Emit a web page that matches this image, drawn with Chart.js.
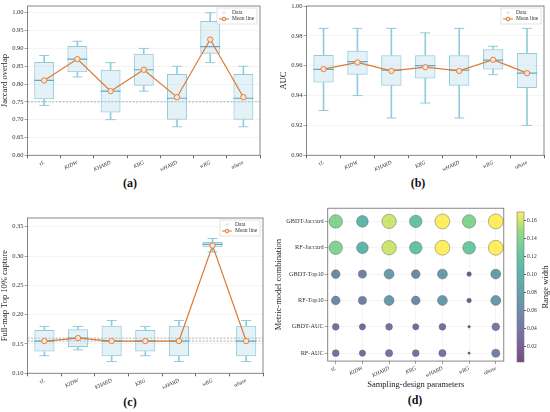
<!DOCTYPE html>
<html>
<head>
<meta charset="utf-8">
<script src="https://cdn.jsdelivr.net/npm/chart.js@4.4.0/dist/chart.umd.min.js"></script>
<style>
  body { margin: 0; background: #fff; width: 550px; height: 412px; position: relative; overflow: hidden; font-family: "Liberation Serif", serif; }
  .panel { position: absolute; }
  .tag { position: absolute; font-weight: bold; font-size: 12px; color: #111; transform: translate(-50%, -50%); }
</style>
</head>
<body>
<div class="panel" style="left:0;top:0;width:266px;height:174px"><canvas id="ca"></canvas></div>
<div class="panel" style="left:276px;top:0;width:274px;height:174px"><canvas id="cb"></canvas></div>
<div class="panel" style="left:0;top:212px;width:269px;height:180px"><canvas id="cc"></canvas></div>
<div class="panel" style="left:274px;top:200px;width:238px;height:190px"><canvas id="cd"></canvas></div>
<div class="panel" style="left:505px;top:200px;width:45px;height:192px"><canvas id="ce"></canvas></div>
<div class="tag" style="left:130px;top:183px">(a)</div>
<div class="tag" style="left:418px;top:183px">(b)</div>
<div class="tag" style="left:130px;top:402px">(c)</div>
<div class="tag" style="left:415px;top:400px">(d)</div>
<script>
var SERIF = "'Liberation Serif', serif";
var ORANGE = "#dd7a36";
var EDGE = "#92cbdc";
var MED = "#62a9c1";
var FILL = "rgba(173,216,230,0.33)";

var params = ["τL", "KIDW", "KHARD", "KRG", "wHARD", "wRG", "αbase"];

// (a) Jaccard overlap
var jacMin  = [0.74, 0.82, 0.70, 0.78, 0.68, 0.86, 0.68];
var jacQ1   = [0.757, 0.833, 0.72, 0.795, 0.70, 0.885, 0.70];
var jacMed  = [0.81, 0.87, 0.78, 0.84, 0.76, 0.905, 0.76];
var jacQ3   = [0.862, 0.907, 0.84, 0.885, 0.828, 0.977, 0.828];
var jacMax  = [0.88, 0.92, 0.86, 0.90, 0.85, 1.00, 0.85];
var jacMean = [0.81, 0.87, 0.78, 0.84, 0.763, 0.925, 0.763];
var jacTicks = [0.60, 0.65, 0.70, 0.75, 0.80, 0.85, 0.90, 0.95, 1.00];
var jacRef = [0.75];

// (b) AUC
var aucMin  = [0.930, 0.940, 0.925, 0.935, 0.925, 0.954, 0.920];
var aucQ1   = [0.9487, 0.954, 0.9465, 0.9515, 0.9465, 0.9575, 0.945];
var aucMed  = [0.9575, 0.9628, 0.957, 0.960, 0.957, 0.9637, 0.955];
var aucQ3   = [0.9672, 0.970, 0.967, 0.967, 0.967, 0.971, 0.9685];
var aucMax  = [0.985, 0.985, 0.985, 0.982, 0.985, 0.973, 0.985];
var aucMean = [0.9577, 0.9622, 0.9565, 0.959, 0.9565, 0.964, 0.955];
var aucTicks = [0.90, 0.92, 0.94, 0.96, 0.98, 1.00];
var aucRef = [];

// (c) Full-map Top 10% capture
var topMin  = [0.13, 0.14, 0.12, 0.13, 0.12, 0.307, 0.12];
var topQ1   = [0.137, 0.145, 0.129, 0.137, 0.129, 0.315, 0.129];
var topMed  = [0.155, 0.16, 0.155, 0.155, 0.155, 0.32, 0.155];
var topQ3   = [0.174, 0.175, 0.181, 0.174, 0.181, 0.324, 0.181];
var topMax  = [0.18, 0.18, 0.19, 0.18, 0.19, 0.33, 0.19];
var topMean = [0.155, 0.16, 0.155, 0.155, 0.155, 0.318, 0.155];
var topTicks = [0.10, 0.15, 0.20, 0.25, 0.30, 0.35];
var topRef = [0.155, 0.16];

// (d) range widths
var rows = ["GBDT-Jaccard", "RF-Jaccard", "GBDT-Top10", "RF-Top10", "GBDT-AUC", "RF-AUC"];
var gbdtJaccard = [0.14, 0.105, 0.16, 0.12, 0.17, 0.14, 0.17];
var rfJaccard   = [0.14, 0.105, 0.16, 0.12, 0.17, 0.125, 0.17];
var gbdtTop10   = [0.058, 0.05, 0.075, 0.058, 0.075, 0.016, 0.075];
var rfTop10     = [0.058, 0.05, 0.075, 0.058, 0.075, 0.016, 0.075];
var gbdtAuc     = [0.035, 0.03, 0.035, 0.03, 0.035, 0.005, 0.045];
var rfAuc       = [0.035, 0.03, 0.04, 0.035, 0.04, 0.004, 0.05];
var cbTicks = [0.02, 0.04, 0.06, 0.08, 0.10, 0.12, 0.14, 0.16];
var vmin = 0.003, vmax = 0.17;

var viridisStops = ["#440154", "#482878", "#3e4989", "#31688e", "#26828e", "#1f9e89", "#35b779", "#6ece58", "#fde725"];

function viridis(t, alpha) {
  t = Math.max(0, Math.min(1, t));
  var f = t * (viridisStops.length - 1);
  var i = Math.min(Math.floor(f), viridisStops.length - 2);
  var k = f - i;
  var a = hex(viridisStops[i]), b = hex(viridisStops[i + 1]);
  var c = a.map(function (v, j) { return Math.round(v + (b[j] - v) * k); });
  return "rgba(" + c[0] + "," + c[1] + "," + c[2] + "," + alpha + ")";
}
function hex(h) {
  return [parseInt(h.substr(1, 2), 16), parseInt(h.substr(3, 2), 16), parseInt(h.substr(5, 2), 16)];
}
function pairs(lo, hi) {
  return lo.map(function (v, i) { return [v, hi[i]]; });
}
function fixTicks(list) {
  return function (sc) { sc.ticks = list.map(function (v) { return { value: v }; }); };
}

var frameLines = {
  id: "frameLines",
  beforeDatasetsDraw: function (chart, args, opts) {
    var a = chart.chartArea, c = chart.ctx, ys = chart.scales.y;
    (opts.lines || []).forEach(function (v) {
      var py = ys.getPixelForValue(v);
      c.save();
      c.setLineDash([2, 1.5]);
      c.strokeStyle = "#9a9a9a";
      c.lineWidth = 0.8;
      c.beginPath(); c.moveTo(a.left, py); c.lineTo(a.right, py); c.stroke();
      c.restore();
    });
  },
  afterDraw: function (chart) {
    var a = chart.chartArea, c = chart.ctx;
    c.save();
    c.strokeStyle = "#6a6a6a";
    c.lineWidth = 0.8;
    c.strokeRect(a.left, a.top, a.right - a.left, a.bottom - a.top);
    c.restore();
  }
};

var innerLegend = {
  id: "innerLegend",
  afterDraw: function (chart) {
    var a = chart.chartArea, c = chart.ctx;
    var w = 40, h = 16, x = a.right - w - 3, y = a.top + 2;
    c.save();
    c.fillStyle = "rgba(255,255,255,0.9)";
    c.strokeStyle = "#d0d0d0";
    c.lineWidth = 0.6;
    c.fillRect(x, y, w, h);
    c.strokeRect(x, y, w, h);
    c.fillStyle = "rgba(173,216,230,0.45)";
    c.beginPath(); c.arc(x + 7, y + 4.5, 1.6, 0, Math.PI * 2); c.fill();
    c.strokeStyle = ORANGE;
    c.lineWidth = 1;
    c.beginPath(); c.moveTo(x + 2, y + 11); c.lineTo(x + 12, y + 11); c.stroke();
    c.fillStyle = "#fbe3d3";
    c.beginPath(); c.arc(x + 7, y + 11, 1.8, 0, Math.PI * 2); c.fill(); c.stroke();
    c.fillStyle = "#333";
    c.font = "5.5px " + SERIF;
    c.textBaseline = "middle";
    c.fillText("Data", x + 15, y + 4.5);
    c.fillText("Mean line", x + 15, y + 11);
    c.restore();
  }
};

function boxChart(id, s) {
  var medR = function (ctx) { return ctx.chart.scales.x.width / params.length * 0.6 / 2; };
  var datasets = [
    { type: "line", label: "Mean line", data: s.mean, borderColor: ORANGE, borderWidth: 1.2,
      pointRadius: 2.7, pointBackgroundColor: "#fbe3d3", pointBorderColor: ORANGE, pointBorderWidth: 0.9 },
    { type: "line", data: s.med, showLine: false, pointStyle: "line", pointRadius: medR,
      pointBorderColor: MED, pointBorderWidth: 1.2 },
    { type: "line", data: s.min, showLine: false, pointStyle: "line", pointRadius: 5,
      pointBorderColor: EDGE, pointBorderWidth: 1 },
    { type: "line", data: s.max, showLine: false, pointStyle: "line", pointRadius: 5,
      pointBorderColor: EDGE, pointBorderWidth: 1 },
    { type: "bar", data: pairs(s.q1, s.q3), backgroundColor: FILL, borderColor: EDGE, borderWidth: 1,
      borderSkipped: false, barPercentage: 0.6, categoryPercentage: 1, grouped: false },
    { type: "bar", data: pairs(s.min, s.q1), backgroundColor: EDGE, barThickness: 1, grouped: false },
    { type: "bar", data: pairs(s.q3, s.max), backgroundColor: EDGE, barThickness: 1, grouped: false }
  ];
  return new Chart(document.getElementById(id), {
    type: "bar",
    data: { labels: params, datasets: datasets },
    plugins: [frameLines, innerLegend],
    options: {
      responsive: true,
      maintainAspectRatio: false,
      animation: false,
      events: [],
      layout: { padding: s.pad },
      plugins: { legend: { display: false }, tooltip: { enabled: false }, frameLines: { lines: s.ref } },
      scales: {
        x: {
          grid: { drawOnChartArea: false, tickLength: 3, tickColor: "#666" },
          border: { display: false },
          ticks: { font: { family: SERIF, size: 5.5, style: "italic" }, color: "#333", minRotation: 25, maxRotation: 25, padding: 1 }
        },
        y: {
          min: s.min0, max: s.max0,
          afterBuildTicks: fixTicks(s.ticks),
          grid: { color: "#ececec", lineWidth: 0.6, tickLength: 3, tickColor: "#666" },
          border: { display: false },
          ticks: { font: { family: SERIF, size: 6.5 }, color: "#333", padding: 1,
            callback: function (v) { return v.toFixed(2); } },
          title: { display: true, text: s.title, font: { family: SERIF, size: 8.5 }, color: "#222", padding: { top: 0, bottom: 1 } }
        }
      }
    }
  });
}

boxChart("ca", { min: jacMin, q1: jacQ1, med: jacMed, q3: jacQ3, max: jacMax, mean: jacMean,
  ticks: jacTicks, ref: jacRef, min0: 0.6, max0: 1.019, title: "Jaccard overlap",
  pad: { left: 0, right: 6, top: 5, bottom: 0 } });
boxChart("cb", { min: aucMin, q1: aucQ1, med: aucMed, q3: aucQ3, max: aucMax, mean: aucMean,
  ticks: aucTicks, ref: aucRef, min0: 0.9, max0: 1.0, title: "AUC",
  pad: { left: 3, right: 5, top: 6, bottom: 0 } });
boxChart("cc", { min: topMin, q1: topQ1, med: topMed, q3: topQ3, max: topMax, mean: topMean,
  ticks: topTicks, ref: topRef, min0: 0.1, max0: 0.365, title: "Full-map Top 10% capture",
  pad: { left: 0, right: 6, top: 6, bottom: 0 } });

// (d) bubble matrix
var rowVals = [gbdtJaccard, rfJaccard, gbdtTop10, rfTop10, gbdtAuc, rfAuc];
var bubbles = [];
rowVals.forEach(function (vals, r) {
  vals.forEach(function (v, i) { bubbles.push({ x: i, y: rows.length - 1 - r, v: v }); });
});

new Chart(document.getElementById("cd"), {
  type: "bubble",
  data: { datasets: [{
    data: bubbles,
    radius: function (ctx) { return 18 * Math.sqrt(ctx.raw.v); },
    backgroundColor: function (ctx) { return viridis((ctx.raw.v - vmin) / (vmax - vmin), 0.72); },
    borderColor: "rgba(90,90,90,0.55)",
    borderWidth: 0.8
  }] },
  plugins: [frameLines],
  options: {
    responsive: true,
    maintainAspectRatio: false,
    animation: false,
    events: [],
    layout: { padding: { left: 0, right: 4, top: 6, bottom: 0 } },
    plugins: { legend: { display: false }, tooltip: { enabled: false } },
    scales: {
      x: {
        type: "linear", min: -0.3, max: 6.3,
        afterBuildTicks: fixTicks([0, 1, 2, 3, 4, 5, 6]),
        grid: { color: "#ececec", lineWidth: 0.6, tickLength: 3, tickColor: "#666" },
        border: { display: false },
        ticks: { font: { family: SERIF, size: 5.5, style: "italic" }, color: "#333", minRotation: 25, maxRotation: 25, padding: 1,
          callback: function (v) { return params[v]; } },
        title: { display: true, text: "Sampling-design parameters", font: { family: SERIF, size: 8.5 }, color: "#222", padding: { top: 0, bottom: 0 } }
      },
      y: {
        type: "linear", min: -0.3, max: 5.5,
        afterBuildTicks: fixTicks([0, 1, 2, 3, 4, 5]),
        grid: { color: "#ececec", lineWidth: 0.6, tickLength: 3, tickColor: "#666" },
        border: { display: false },
        ticks: { font: { family: SERIF, size: 6.3 }, color: "#333", padding: 1,
          callback: function (v) { return rows[rows.length - 1 - v]; } },
        title: { display: true, text: "Metric-model combination", font: { family: SERIF, size: 8.5 }, color: "#222", padding: { top: 0, bottom: 1 } }
      }
    }
  }
});

// colour bar
var cbTitle = {
  id: "cbTitle",
  afterDraw: function (chart) {
    var a = chart.chartArea, c = chart.ctx;
    c.save();
    c.strokeStyle = "#777";
    c.lineWidth = 0.6;
    c.strokeRect(a.left, a.top, a.right - a.left, a.bottom - a.top);
    c.translate(a.right + 22, (a.top + a.bottom) / 2);
    c.rotate(-Math.PI / 2);
    c.fillStyle = "#222";
    c.font = "8.5px " + SERIF;
    c.textAlign = "center";
    c.textBaseline = "middle";
    c.fillText("Range width", 0, 0);
    c.restore();
  }
};

new Chart(document.getElementById("ce"), {
  type: "bar",
  data: { labels: [""], datasets: [{
    data: [[vmin, vmax]],
    backgroundColor: function (ctx) {
      var a = ctx.chart.chartArea;
      if (!a) return "#888";
      var g = ctx.chart.ctx.createLinearGradient(0, a.bottom, 0, a.top);
      for (var k = 0; k <= 16; k++) g.addColorStop(k / 16, viridis(k / 16, 0.72));
      return g;
    },
    borderWidth: 0,
    barPercentage: 1,
    categoryPercentage: 1
  }] },
  plugins: [cbTitle],
  options: {
    responsive: true,
    maintainAspectRatio: false,
    animation: false,
    events: [],
    layout: { padding: { left: 12, right: 8, top: 12, bottom: 30 } },
    plugins: { legend: { display: false }, tooltip: { enabled: false } },
    scales: {
      x: { display: false },
      y: {
        position: "right", min: vmin, max: vmax,
        afterBuildTicks: fixTicks(cbTicks),
        afterFit: function (sc) { sc.width = 18; },
        grid: { drawOnChartArea: false, tickLength: 2, tickColor: "#555" },
        border: { display: false },
        ticks: { font: { family: SERIF, size: 5.5 }, color: "#333", padding: 1,
          callback: function (v) { return v.toFixed(2); } }
      }
    }
  }
});
</script>
</body>
</html>
